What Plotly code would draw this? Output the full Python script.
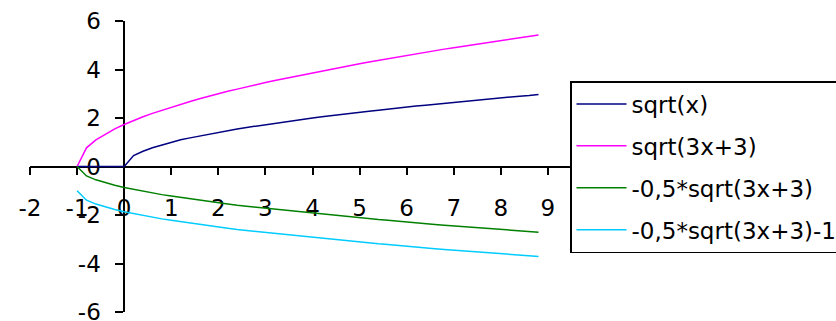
import plotly.graph_objects as go

x_vals = [-1.0, -0.8, -0.6, -0.4, -0.2, 0.0, 0.2, 0.4, 0.6, 0.8,
          1.0, 1.2, 1.4, 1.6, 1.8, 2.0, 2.2, 2.4, 2.6, 2.8,
          3.0, 3.2, 3.4, 3.6, 3.8, 4.0, 4.2, 4.4, 4.6, 4.8,
          5.0, 5.2, 5.4, 5.6, 5.8, 6.0, 6.2, 6.4, 6.6, 6.8,
          7.0, 7.2, 7.4, 7.6, 7.8, 8.0, 8.2, 8.4, 8.6, 8.8]

sqrt_x = [0, 0, 0, 0, 0, 0, 0.45, 0.63, 0.77, 0.89,
          1.00, 1.10, 1.18, 1.26, 1.34, 1.41, 1.48, 1.55, 1.61, 1.67,
          1.73, 1.79, 1.84, 1.90, 1.95, 2.00, 2.05, 2.10, 2.14, 2.19,
          2.24, 2.28, 2.32, 2.37, 2.41, 2.45, 2.49, 2.53, 2.57, 2.61,
          2.65, 2.68, 2.72, 2.76, 2.79, 2.83, 2.86, 2.90, 2.93, 2.97]

sqrt_3x3 = [0, 0.77, 1.10, 1.34, 1.55, 1.73, 1.90, 2.05, 2.19, 2.32,
            2.45, 2.57, 2.68, 2.79, 2.90, 3.00, 3.10, 3.19, 3.29, 3.38,
            3.46, 3.55, 3.63, 3.71, 3.79, 3.87, 3.95, 4.02, 4.10, 4.17,
            4.24, 4.31, 4.38, 4.45, 4.52, 4.58, 4.65, 4.71, 4.77, 4.84,
            4.90, 4.96, 5.02, 5.08, 5.14, 5.20, 5.25, 5.31, 5.37, 5.42]

neg_half = [0, -0.39, -0.55, -0.67, -0.77, -0.87, -0.95, -1.02, -1.10, -1.16,
            -1.22, -1.28, -1.34, -1.40, -1.45, -1.50, -1.55, -1.60, -1.64, -1.69,
            -1.73, -1.77, -1.82, -1.86, -1.90, -1.94, -1.97, -2.01, -2.05, -2.09,
            -2.12, -2.16, -2.19, -2.22, -2.26, -2.29, -2.32, -2.36, -2.39, -2.42,
            -2.45, -2.48, -2.51, -2.54, -2.57, -2.60, -2.63, -2.66, -2.68, -2.71]

neg_half_m1 = [-1.00, -1.39, -1.55, -1.67, -1.77, -1.87, -1.95, -2.02, -2.10, -2.16,
               -2.22, -2.28, -2.34, -2.40, -2.45, -2.50, -2.55, -2.60, -2.64, -2.69,
               -2.73, -2.77, -2.82, -2.86, -2.90, -2.94, -2.97, -3.01, -3.05, -3.09,
               -3.12, -3.16, -3.19, -3.22, -3.26, -3.29, -3.32, -3.36, -3.39, -3.42,
               -3.45, -3.48, -3.51, -3.54, -3.57, -3.60, -3.63, -3.66, -3.68, -3.71]

series_names = ["sqrt(x)", "sqrt(3x+3)", "-0,5*sqrt(3x+3)", "-0,5*sqrt(3x+3)-1"]
series_values = [sqrt_x, sqrt_3x3, neg_half, neg_half_m1]
series_colors = ["#000080", "#FF00FF", "#008000", "#00CCFF"]

x_ticks = [-2, -1, 0, 1, 2, 3, 4, 5, 6, 7, 8, 9, 10]
y_ticks = [-6, -4, -2, 0, 2, 4, 6]

FONT = "DejaVu Sans"

fig = go.Figure()
for i, (name, vals, col) in enumerate(zip(series_names, series_values, series_colors)):
    fig.add_trace(go.Scatter(
        x=x_vals, y=vals, mode="lines", name=name,
        line=dict(color=col, width=1.5),
        legendgroup=f"g{i}",
    ))

fig.update_layout(
    width=836, height=321,
    margin=dict(l=30, r=241, t=21, b=9, autoexpand=False),
    paper_bgcolor="white", plot_bgcolor="white",
    font=dict(family=FONT, color="black", size=23),
    showlegend=True,
    legend=dict(
        x=(570 - 30) / 565, y=(312 - 81) / 291, xanchor="left", yanchor="top",
        bgcolor="white", bordercolor="black", borderwidth=1.5,
        font=dict(family=FONT, size=23, color="black"),
        tracegroupgap=9, traceorder="grouped", itemwidth=50,
    ),
    xaxis=dict(
        range=[-2, 10], tickvals=x_ticks, ticktext=[str(v) for v in x_ticks],
        showgrid=False, zeroline=False, showline=True, linecolor="black", linewidth=1.6,
        ticks="outside", ticklen=8, tickwidth=1.6, tickcolor="black",
        anchor="free", position=0.5, layer="below traces",
        ticklabelstandoff=13, automargin=False, ticklabeloverflow="allow",
        tickfont=dict(family=FONT, size=23),
    ),
    yaxis=dict(
        range=[-6, 6], tickvals=y_ticks, ticktext=[str(v) for v in y_ticks],
        showgrid=False, zeroline=False, showline=True, linecolor="black", linewidth=1.6,
        ticks="outside", ticklen=8, tickwidth=1.6, tickcolor="black",
        anchor="free", position=2/12, layer="below traces",
        ticklabelstandoff=10, automargin=False, ticklabeloverflow="allow",
        tickfont=dict(family=FONT, size=23, color="black"),
    ),
)

fig.write_html("out.html", post_script="document.body.style.margin='0';",
               config={"displayModeBar": False})
